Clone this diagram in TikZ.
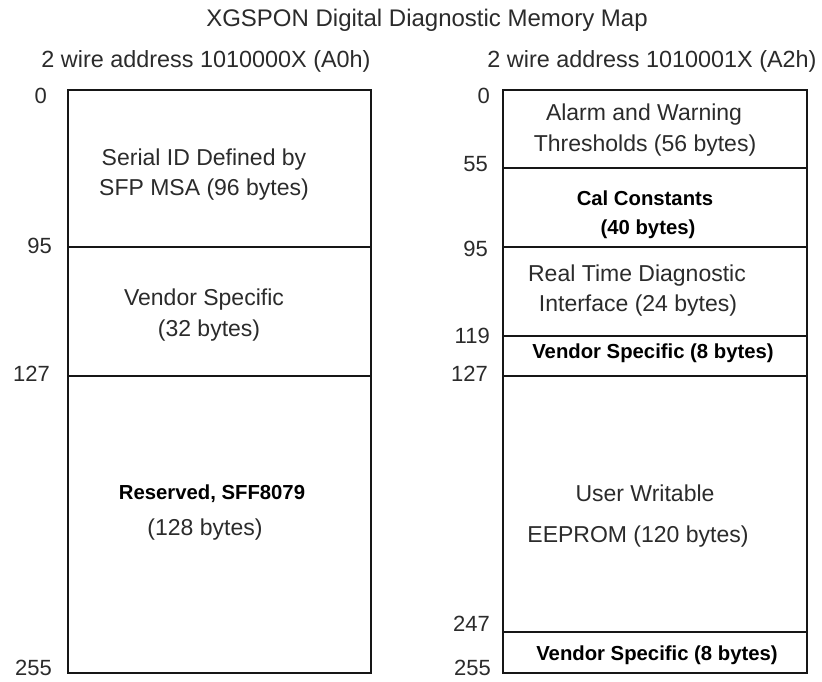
\documentclass[tikz,border=0pt]{standalone}
\usepackage{fontspec}
\setmainfont{Liberation Sans}
\definecolor{txt}{HTML}{2B2B2B}
\definecolor{ln}{HTML}{161616}
\begin{document}
\begin{tikzpicture}[x=1pt,y=-1pt,
  reg/.style={font=\fontsize{23}{27}\selectfont, text=txt, anchor=base, inner sep=0pt},
  bld/.style={font=\fontsize{20.3}{24}\selectfont\bfseries, text=black, anchor=base, inner sep=0pt},
  num/.style={font=\fontsize{22}{26}\selectfont, text=txt, anchor=base east, inner sep=0pt},
  ttl/.style={font=\fontsize{24}{28}\selectfont, text=txt, anchor=base, inner sep=0pt},
  sub/.style={font=\fontsize{23.4}{28}\selectfont, text=txt, anchor=base, inner sep=0pt},
  lbox/.style={draw=ln, line width=2.6pt, minimum width=303pt, inner sep=0pt, outer sep=0pt},
  rbox/.style={draw=ln, line width=2.6pt, minimum width=304pt, inner sep=0pt, outer sep=0pt}]
\useasboundingbox (0,0) rectangle (822,681);
\fill[white] (0,0) rectangle (822,681);

% title and subtitles
\node[ttl] (title) at (427,26.5) {XGSPON Digital Diagnostic Memory Map};
\node[sub] (subA0) at (206,67) {2 wire address 1010000X (A0h)};
\node[sub] (subA2) at (652,67) {2 wire address 1010001X (A2h)};

% left map (A0h)
\node[lbox, minimum height=157pt] (a0id) at (219.5,168.5) {};
\node[lbox, minimum height=129pt] (a0vs) at (219.5,311.5) {};
\node[lbox, minimum height=297pt] (a0res) at (219.5,524.5) {};

\node[reg] (t1) at (204,165) {Serial ID Defined by};
\node[reg] (t2) at (204,195) {SFP MSA (96 bytes)};
\node[reg] (t3) at (204,305) {Vendor Specific};
\node[reg] (t4) at (209,336) {(32 bytes)};
\node[bld] (t5) at (212,499) {Reserved, SFF8079};
\node[reg] (t6) at (205,535) {(128 bytes)};

\node[num] (l0) at (47,103) {0};
\node[num] (l95) at (52,253) {95};
\node[num] (l127) at (50,381) {127};
\node[num] (l255) at (52,675) {255};

% right map (A2h)
\node[rbox, minimum height=78pt] (a2thr) at (655,129) {};
\node[rbox, minimum height=79pt] (a2cal) at (655,207.5) {};
\node[rbox, minimum height=89pt] (a2rtd) at (655,291.5) {};
\node[rbox, minimum height=40pt] (a2vs1) at (655,356) {};
\node[rbox, minimum height=256pt] (a2usr) at (655,504) {};
\node[rbox, minimum height=41pt] (a2vs2) at (655,652.5) {};

\node[reg] (u1) at (644,120) {Alarm and Warning};
\node[reg] (u2) at (645,151) {Thresholds (56 bytes)};
\node[bld] (u3) at (645,205) {Cal Constants};
\node[bld] (u4) at (648,234) {(40 bytes)};
\node[reg] (u5) at (637,281) {Real Time Diagnostic};
\node[reg] (u6) at (638,311) {Interface (24 bytes)};
\node[bld] (u7) at (653,358) {Vendor Specific (8 bytes)};
\node[reg] (u8) at (645,501) {User Writable};
\node[reg] (u9) at (638,542) {EEPROM (120 bytes)};
\node[bld] (u10) at (657,660) {Vendor Specific (8 bytes)};

\node[num] (r0) at (490,103) {0};
\node[num] (r55) at (488,171) {55};
\node[num] (r95) at (488,256) {95};
\node[num] (r119) at (490,343) {119};
\node[num] (r127) at (488,381) {127};
\node[num] (r247) at (490,631) {247};
\node[num] (r255) at (491,675) {255};
\end{tikzpicture}
\end{document}
